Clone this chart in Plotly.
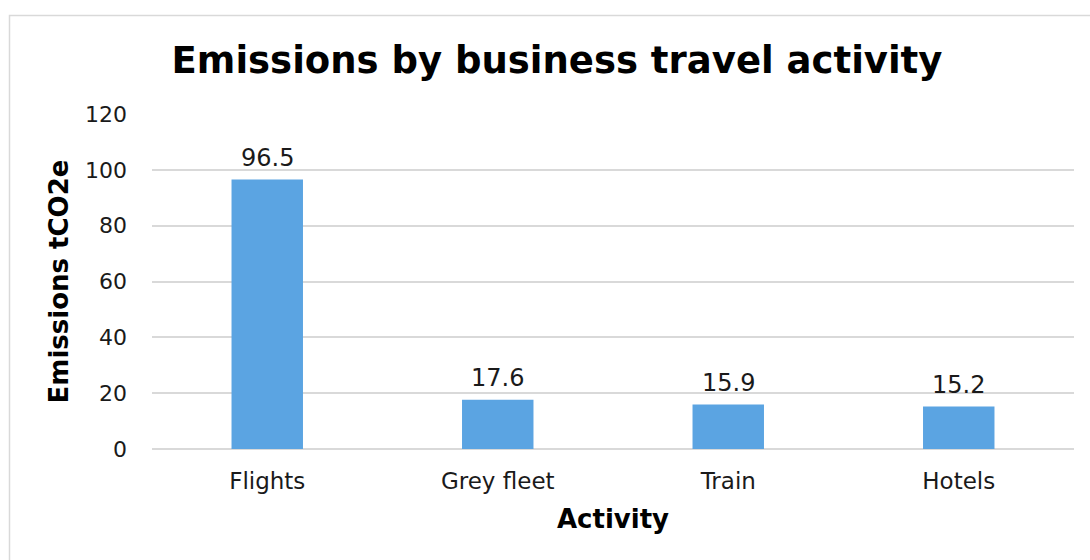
import plotly.graph_objects as go

categories = ["Flights", "Grey fleet", "Train", "Hotels"]
emissions = [96.5, 17.6, 15.9, 15.2]
y_ticks = [0, 20, 40, 60, 80, 100, 120]

L, R, T, B = 152, 16, 114, 111
W, H = 1090, 560
pw = W - L - R
ph = H - T - B

def px_to_paper_x(px):
    return (px - L) / pw

def px_to_paper_y(py):
    return (H - B - py) / ph

fig = go.Figure(go.Bar(
    x=categories, y=emissions,
    marker=dict(color="#5BA4E2", line=dict(width=0)),
))

annotations = [
    dict(x=c, y=v, xref="x", yref="y", text=f"{v:.1f}", showarrow=False,
         yanchor="bottom", yshift=6,
         font=dict(family="DejaVu Sans", size=24, color="#1a1a1a"))
    for c, v in zip(categories, emissions)
]

fig.update_layout(
    width=W, height=H,
    margin=dict(l=L, r=R, t=T, b=B),
    paper_bgcolor="white", plot_bgcolor="white",
    bargap=0.69,
    showlegend=False,
    title=dict(text="<b>Emissions by business travel activity</b>",
               x=557 / W, xanchor="center", y=1 - 60 / H, yanchor="middle",
               font=dict(family="DejaVu Sans", size=37, color="black")),
    font=dict(family="DejaVu Sans", color="#1a1a1a"),
    annotations=annotations,
    xaxis=dict(
        title=dict(text="<b>Activity</b>", font=dict(size=26, color="black"), standoff=16),
        tickfont=dict(size=23, color="#1a1a1a"),
        showline=False, ticks="", showgrid=False, ticklabelstandoff=16,
    ),
    yaxis=dict(
        title=dict(text="<b>Emissions tCO2e</b>", font=dict(size=26, color="black"), standoff=8),
        range=[0, 120], tickvals=y_ticks,
        tickfont=dict(size=22, color="#1a1a1a"),
        showgrid=True, gridcolor="#D9D9D9", gridwidth=1.5,
        zeroline=True, zerolinecolor="#D9D9D9", zerolinewidth=1.5,
        showline=False, ticks="", ticklabelstandoff=24,
    ),
    shapes=[dict(
        type="rect", xref="paper", yref="paper",
        x0=px_to_paper_x(9.5), x1=px_to_paper_x(1100),
        y0=px_to_paper_y(580), y1=px_to_paper_y(15.5),
        line=dict(color="#D9D9D9", width=1.5), fillcolor="rgba(0,0,0,0)",
        layer="below",
    )],
)

fig.write_html("out.html")
